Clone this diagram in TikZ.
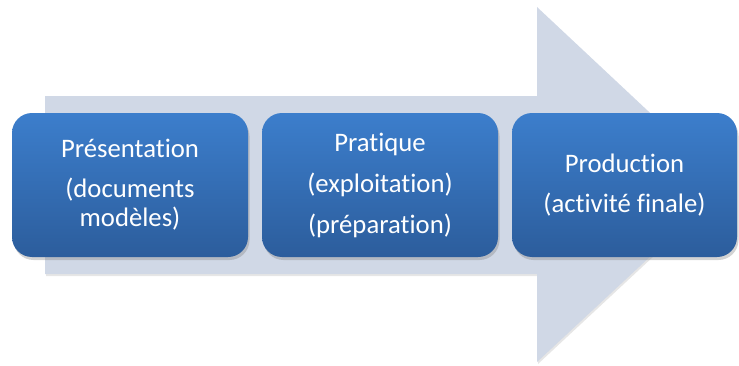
\documentclass[tikz,border=0pt]{standalone}
\usepackage{fontspec}
\setmainfont{Carlito}[Ligatures=NoCommon]
\usetikzlibrary{shadows}
\definecolor{fleche}{RGB}{208,216,230}
\definecolor{bleuhaut}{RGB}{60,126,204}
\definecolor{bleubas}{RGB}{44,93,156}
\begin{document}
\begin{tikzpicture}[x=1pt,y=1pt,
	etape/.style={rounded corners=20pt, top color=bleuhaut, bottom color=bleubas,
		minimum height=144pt, text=white, align=center,
		font=\fontsize{26.7}{29}\selectfont,
		drop shadow={opacity=0.35, shadow xshift=1.5pt, shadow yshift=-3pt}}]
		\useasboundingbox (0,0) rectangle (739,365);
		% grande fleche de fond
		\fill[fleche, drop shadow={opacity=0.2, shadow xshift=1pt, shadow yshift=-2pt}]
			(45,269) -- (537,269) -- (537,358) -- (727,180) -- (537,3) -- (537,91) -- (45,91) -- cycle;
		
		\node[etape, minimum width=236pt] (P1) at (130,180) {Présentation\\[11pt](documents\\modèles)};
		\node[etape, minimum width=236pt] (P2) at (380,180) {Pratique\\[12pt](exploitation)\\[12pt](préparation)};
		\node[etape, minimum width=225pt] (P3) at (624.5,180) {Production\\[11pt](activité finale)};
		\end{tikzpicture}
\end{document}
